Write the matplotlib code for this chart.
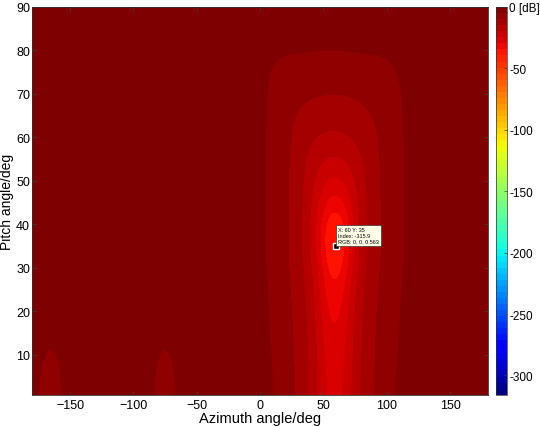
import numpy as np
import matplotlib
matplotlib.use('Agg')
import matplotlib.pyplot as plt

plt.rcParams['font.family'] = ['Liberation Sans', 'DejaVu Sans']

# grid of cell centres (deg)
az_centers = np.arange(-175, 180, 10)
pitch_centers = np.arange(2.5, 90, 5)

# main lobe (dB); rows = pitch 2.5 .. 87.5, cols = lobe_az
lobe_az = [5, 15, 25, 35, 45, 55, 65, 75, 85, 95, 105, 115]
lobe_db = [
    [-3.8, -5.8, -8.8, -12.3, -18.5, -27, -26, -17, -11.3, -8, -4.9, -3.6],
    [-4.0, -6.0, -9.0, -12.5, -19, -28, -26.5, -17.5, -11.5, -8.3, -5.2, -3.8],
    [-4.2, -6.3, -9.3, -12.8, -19.5, -29, -27.5, -18, -11.8, -8.5, -5.6, -4.0],
    [-4.4, -6.5, -9.5, -13, -20, -31, -29, -18.5, -12, -8.7, -5.8, -4.1],
    [-4.6, -6.8, -9.8, -13.5, -21, -33, -31, -19, -12.5, -9, -6, -4.3],
    [-4.8, -7, -10, -14, -22, -36, -34, -20, -13, -9.3, -6.2, -4.5],
    [-5.2, -7.5, -10.5, -15, -24, -40, -38, -22, -14, -9.8, -7, -4.8],
    [-5.2, -7.5, -10.5, -15, -25, -42, -40, -23, -14, -9.8, -7, -4.8],
    [-5.2, -7.5, -10.5, -15, -24, -36, -35, -22, -14, -9.8, -7, -4.8],
    [-5.2, -7.5, -10.5, -15, -22, -29, -28, -20.5, -14, -9.6, -6.8, -4.8],
    [-5.2, -7.3, -10.3, -14.5, -19.5, -23, -22.5, -18.5, -13.5, -9.6, -6.6, -4.8],
    [-5.2, -7.2, -10, -13.5, -16.5, -18, -17.5, -15.5, -12.5, -9.5, -6.5, -4.8],
    [-5.1, -7, -9.8, -11.8, -13.3, -14, -13.8, -12.8, -11, -9.2, -6.3, -4.7],
    [-5, -6.8, -8.8, -10, -10.7, -11, -10.9, -10.4, -9.5, -8.3, -6, -4.6],
    [-4.9, -6.2, -7.3, -7.9, -8.3, -8.5, -8.4, -8.1, -7.6, -7, -5.6, -4.4],
    [-4.5, -5.1, -5.3, -5.4, -5.5, -5.5, -5.5, -5.4, -5.3, -5.2, -4.8, -4],
    [-3.3, -3.7, -3.9, -4, -4.1, -4.1, -4.1, -4, -3.9, -3.8, -3.5, -3],
    [-2.5, -2.7, -2.8, -2.9, -3, -3, -3, -2.9, -2.8, -2.7, -2.5, -2.3],
]

# two small side lobes near the ground (pitch 2.5 .. 17.5)
bump_az = [-165, -75]
bump_center_db = [-7.0, -6.5, -5.3, -3.0]
bump_side_db = [-4.4, -4.2, -3.5, -2.5]

background_db = -2.0
db_min = -315.9
tip_az, tip_pitch = 60, 35
cbar_ticks = [-300, -250, -200, -150, -100, -50, 0]
cbar_labels = ['-300', '-250', '-200', '-150', '-100', '-50', '0 [dB]']

field = np.full((len(pitch_centers), len(az_centers)), background_db)
cols = np.searchsorted(az_centers, lobe_az)
field[:, cols] = np.array(lobe_db)
nb = len(bump_center_db)
for a in bump_az:
    c = np.searchsorted(az_centers, a)
    field[:nb, c] = bump_center_db
    field[:nb, c - 1] = bump_side_db
    field[:nb, c + 1] = bump_side_db

fig = plt.figure(figsize=(5.4, 4.27), dpi=100)
ax = fig.add_axes([0.0593, 0.0726, 0.8444, 0.9087])
cmap = plt.get_cmap('jet', 64)
im = ax.imshow(field, origin='lower', extent=[-180, 180, 0, 90], aspect='auto',
               cmap=cmap, vmin=db_min, vmax=0, interpolation='bicubic',
               interpolation_stage='data')
ax.set_xlim(-180, 180)
ax.set_ylim(0.8, 90)
ax.set_xticks([-150, -100, -50, 0, 50, 100, 150])
ax.set_yticks([10, 20, 30, 40, 50, 60, 70, 80, 90])
ax.tick_params(direction='in', length=3, width=0.5, labelsize=9, top=True, right=True,
               color='#404040', pad=3)
ax.tick_params(axis='y', pad=1.5)
for s in ax.spines.values():
    s.set_linewidth(0.6)
    s.set_color('#303030')
ax.set_xlabel('Azimuth angle/deg', fontsize=10.5, labelpad=0)
ax.set_ylabel('Pitch angle/deg', fontsize=10)
ax.yaxis.set_label_coords(-0.039, 0.5)

# datatip
ax.plot(tip_az, tip_pitch, 's', ms=4, mfc='black', mec='white', mew=1.0)
ax.text(tip_az + 1.5, tip_pitch + 0.6, 'X: 60 Y: 35\nIndex: -315.9\nRGB: 0, 0, 0.563',
        fontsize=4, va='bottom', ha='left', linespacing=1.2,
        bbox=dict(boxstyle='square,pad=0.4', fc='#FFFFE8', ec='#333333', lw=0.5))

cax = fig.add_axes([0.9185, 0.0726, 0.0204, 0.9087])
cb = fig.colorbar(im, cax=cax, ticks=cbar_ticks)
cb.ax.set_yticklabels(cbar_labels)
cb.ax.tick_params(direction='in', length=2, width=0.5, labelsize=8.5, pad=1.5,
                  color='#404040')
cb.outline.set_linewidth(0.5)
cb.outline.set_edgecolor('#303030')

fig.savefig('out.png', dpi=100)
